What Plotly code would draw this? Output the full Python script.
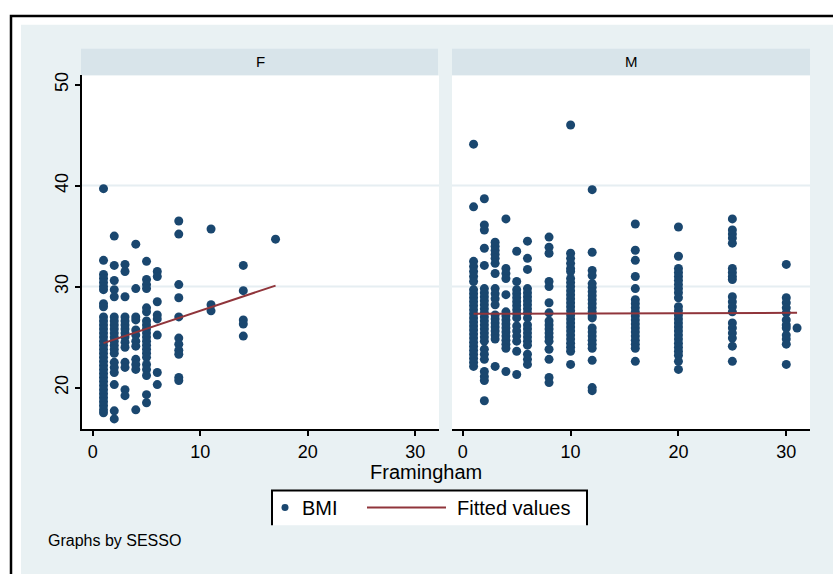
import plotly.graph_objects as go

# ---------------- data ----------------
f_x = ([1] * 34 + [2] * 21 + [3] * 15 + [4] * 12 + [5] * 21 + [6] * 8 + [8] * 11
       + [11] * 3 + [14] * 5 + [17] * 1)
f_y = [
    # x=1
    39.7, 32.6, 31.2, 30.8, 30.4, 30.0, 29.7, 28.3, 28.0, 27.0, 26.6, 26.2, 25.8, 25.4,
    25.0, 24.6, 24.2, 23.8, 23.4, 23.0, 22.6, 22.2, 21.8, 21.4, 21.0, 20.6, 20.2, 19.8,
    19.4, 19.0, 18.6, 18.2, 17.8, 17.5,
    # x=2
    35.0, 32.1, 30.6, 29.7, 29.0, 27.0, 26.6, 26.2, 25.8, 25.4, 25.0, 24.6, 24.2, 23.8,
    23.4, 22.5, 22.0, 21.5, 20.3, 17.7, 16.9,
    # x=3
    32.2, 31.5, 29.0, 27.0, 26.6, 26.2, 25.8, 25.4, 25.0, 24.5, 24.0, 22.5, 22.0, 19.8, 19.2,
    # x=4
    34.2, 29.8, 27.0, 26.7, 25.7, 25.2, 24.6, 24.1, 22.8, 22.3, 21.8, 17.8,
    # x=5
    32.5, 30.7, 30.2, 29.8, 27.9, 27.5, 26.6, 26.2, 25.8, 25.4, 25.0, 24.6, 24.2, 23.8,
    23.4, 23.0, 22.3, 21.8, 21.2, 19.3, 18.5,
    # x=6
    31.5, 31.0, 28.5, 27.2, 26.8, 25.2, 21.5, 20.3,
    # x=8
    36.5, 35.2, 30.2, 28.9, 27.0, 24.9, 24.3, 23.7, 23.3, 21.0, 20.7,
    # x=11
    35.7, 28.2, 27.6,
    # x=14
    32.1, 29.6, 26.7, 26.3, 25.1,
    # x=17
    34.7,
]

m_cols = {
    1: [44.1, 37.9, 32.5, 32.0, 31.5, 31.0, 30.5, 29.7, 29.3, 28.9, 28.5, 28.1, 27.7, 27.3,
        26.9, 26.5, 26.1, 25.7, 25.3, 24.9, 24.5, 24.1, 23.7, 23.3, 22.9, 22.5, 22.1],
    2: [38.7, 36.1, 35.6, 33.8, 32.1, 29.8, 29.4, 29.0, 28.6, 28.2, 27.8, 27.4, 27.0, 26.6,
        26.2, 25.8, 25.4, 25.0, 24.6, 23.8, 23.3, 22.8, 21.6, 21.1, 20.7, 18.7],
    3: [34.4, 34.0, 33.6, 33.2, 32.8, 32.3, 31.3, 29.8, 29.3, 28.8, 28.2, 27.2, 26.8, 26.4,
        26.0, 25.6, 25.2, 24.8, 22.1],
    4: [36.7, 31.8, 31.3, 30.8, 29.2, 27.5, 27.1, 26.7, 26.3, 25.9, 25.5, 25.1, 24.7, 24.3,
        23.9, 21.6],
    5: [33.5, 30.5, 29.7, 29.3, 28.9, 28.5, 28.1, 27.7, 27.3, 26.9, 26.1, 25.6, 25.1, 24.6,
        23.6, 21.3],
    6: [34.5, 32.8, 31.7, 29.8, 29.4, 29.0, 28.6, 28.2, 27.8, 27.4, 26.9, 26.2, 25.8, 25.4,
        25.0, 24.6, 24.2, 23.3, 22.8, 22.3],
    8: [34.9, 33.9, 33.3, 30.5, 30.0, 28.4, 27.4, 26.6, 26.2, 25.8, 25.4, 25.0, 24.6, 23.8,
        22.8, 21.0, 20.5],
    10: [46.0, 33.3, 32.8, 32.3, 31.8, 31.5, 30.8, 30.4, 30.0, 29.6, 29.2, 28.8, 28.4, 28.0,
         27.6, 27.2, 26.8, 26.4, 26.0, 25.6, 25.2, 24.8, 24.4, 24.0, 23.6, 22.3],
    12: [39.6, 33.4, 31.6, 31.1, 30.3, 29.9, 29.5, 29.1, 28.7, 28.3, 27.9, 27.5, 27.1, 26.9,
         25.9, 25.5, 25.1, 24.7, 24.3, 23.9, 22.7, 20.0, 19.7],
    16: [36.2, 33.6, 32.6, 31.0, 29.8, 28.7, 28.3, 27.9, 27.5, 27.1, 26.7, 26.3, 25.9, 25.5,
         25.1, 24.7, 24.3, 23.9, 22.6],
    20: [35.9, 33.0, 31.8, 31.4, 31.0, 30.6, 30.2, 29.8, 29.4, 28.9, 28.0, 27.6, 27.2, 26.8,
         26.4, 26.0, 25.6, 25.2, 24.8, 24.4, 24.0, 23.6, 23.2, 22.6, 21.8],
    25: [36.7, 35.6, 35.2, 34.8, 34.3, 31.8, 31.4, 31.0, 30.7, 29.0, 28.5, 28.0, 27.5, 26.4,
         25.9, 25.4, 24.9, 24.1, 22.6],
    30: [32.2, 28.9, 28.4, 27.9, 27.4, 26.7, 26.2, 25.9, 25.2, 24.8, 24.3, 22.3],
    31: [25.9],
}
m_x = [k for k, vals in m_cols.items() for _ in vals]
m_y = [v for vals in m_cols.values() for v in vals]

f_fit_x = [1, 17]
f_fit_y = [24.4, 30.1]
m_fit_x = [1, 31]
m_fit_y = [27.3, 27.4]

panel_labels = ["F", "M"]
x_ticks = [0, 10, 20, 30]
y_ticks = [20, 30, 40, 50]
grid_vals = [30, 40]
x_title = "Framingham"
legend_labels = ["BMI", "Fitted values"]
note = "Graphs by SESSO"

# ---------------- styling ----------------
W, H = 833, 574
NAVY = "#1a476f"
MAROON = "#90353b"
BG = "#e9f1f3"
STRIP = "#d8e4ea"
GRID = "#e6eef2"
FONT = "Liberation Sans, Arial, sans-serif"
NARROW = "Liberation Sans Narrow, Arial Narrow, Liberation Sans, sans-serif"


def px(x):
    return x / W


def py(y):
    return 1 - y / H


fig = go.Figure()

fig.add_trace(go.Scatter(x=f_x, y=f_y, mode="markers", xaxis="x", yaxis="y",
                         marker=dict(color=NAVY, size=9), showlegend=False))
fig.add_trace(go.Scatter(x=f_fit_x, y=f_fit_y, mode="lines", xaxis="x", yaxis="y",
                         line=dict(color=MAROON, width=2), showlegend=False))
fig.add_trace(go.Scatter(x=m_x, y=m_y, mode="markers", xaxis="x2", yaxis="y2",
                         marker=dict(color=NAVY, size=9), showlegend=False))
fig.add_trace(go.Scatter(x=m_fit_x, y=m_fit_y, mode="lines", xaxis="x2", yaxis="y2",
                         line=dict(color=MAROON, width=2), showlegend=False))

xr = [-1.0, 32.2]
yr = [15.9, 50.9]
ydom = [py(428), py(72)]
f_dom = [px(82), px(439)]
m_dom = [px(452), px(810)]

xaxis_common = dict(range=xr, tickvals=x_ticks, showgrid=False, zeroline=False,
                    showline=True, linecolor="black", linewidth=2,
                    ticks="outside", ticklen=5, tickwidth=1.5, tickcolor="black",
                    tickfont=dict(family=NARROW, size=18, color="black"))

fig.update_layout(
    width=W, height=H,
    margin=dict(l=0, r=0, t=0, b=0),
    paper_bgcolor="white",
    plot_bgcolor="white",
    showlegend=False,
    xaxis=dict(domain=f_dom, anchor="y", **xaxis_common),
    xaxis2=dict(domain=m_dom, anchor="y2", **xaxis_common),
    yaxis=dict(domain=ydom, range=yr, anchor="x", tickvals=y_ticks, showgrid=False,
               zeroline=False, showline=True, linecolor="black", linewidth=2,
               ticks="outside", ticklen=5, tickwidth=1.5, tickcolor="black",
               tickangle=-90, tickfont=dict(family=NARROW, size=18, color="black")),
    yaxis2=dict(domain=ydom, range=yr, anchor="x2", matches="y", showgrid=False,
                zeroline=False, showline=False, showticklabels=False, ticks=""),
)

shapes = [
    # outer black frame (extends past the right/bottom edge)
    dict(type="rect", xref="paper", yref="paper", x0=px(11), x1=px(W + 20),
         y0=py(H + 20), y1=py(12), line=dict(color="black", width=2.5),
         fillcolor="white", layer="below"),
    # light bluish graph region
    dict(type="rect", xref="paper", yref="paper", x0=px(21), x1=px(W + 5),
         y0=py(H + 5), y1=py(21), line=dict(width=0), fillcolor=BG, layer="below"),
    # strips
    dict(type="rect", xref="paper", yref="paper", x0=px(81), x1=px(438),
         y0=py(72), y1=py(45), line=dict(width=0), fillcolor=STRIP, layer="below"),
    dict(type="rect", xref="paper", yref="paper", x0=px(452), x1=px(810),
         y0=py(72), y1=py(45), line=dict(width=0), fillcolor=STRIP, layer="below"),
    # white plot regions
    dict(type="rect", xref="paper", yref="paper", x0=f_dom[0], x1=f_dom[1],
         y0=ydom[0], y1=ydom[1], line=dict(width=0), fillcolor="white", layer="below"),
    dict(type="rect", xref="paper", yref="paper", x0=m_dom[0], x1=m_dom[1],
         y0=ydom[0], y1=ydom[1], line=dict(width=0), fillcolor="white", layer="below"),
]
for xa, ya in (("x", "y"), ("x2", "y2")):
    for g in grid_vals:
        shapes.append(dict(type="line", xref=f"{xa} domain", yref=ya, x0=0, x1=1,
                           y0=g, y1=g, line=dict(color=GRID, width=2), layer="below"))

# legend box (white, three-sided border as in the reference)
lx0, lx1, ly0, ly1 = px(272), px(587), py(525), py(490)
shapes.append(dict(type="rect", xref="paper", yref="paper", x0=lx0, x1=lx1, y0=ly0, y1=ly1,
                   line=dict(width=0), fillcolor="white"))
shapes.append(dict(type="path", xref="paper", yref="paper",
                   path=f"M {lx0},{ly0} L {lx0},{ly1} L {lx1},{ly1} L {lx1},{ly0}",
                   line=dict(color="black", width=2)))
shapes.append(dict(type="line", xref="paper", yref="paper", x0=px(367), x1=px(446),
                   y0=py(507), y1=py(507), line=dict(color=MAROON, width=2)))
# legend marker swatch
shapes.append(dict(type="circle", xref="paper", yref="paper",
                   x0=px(281.5), x1=px(288.5), y0=py(510.5), y1=py(503.5),
                   line=dict(width=0), fillcolor=NAVY))
fig.update_layout(shapes=shapes)

annotations = [
    dict(text=panel_labels[0], x=px(260), y=py(58), xref="paper", yref="paper",
         showarrow=False, font=dict(family=FONT, size=15, color="black"),
         xanchor="center", yanchor="middle"),
    dict(text=panel_labels[1], x=px(631), y=py(58), xref="paper", yref="paper",
         showarrow=False, font=dict(family=FONT, size=15, color="black"),
         xanchor="center", yanchor="middle"),
    dict(text=x_title, x=px(426), y=py(471), xref="paper", yref="paper",
         showarrow=False, font=dict(family=FONT, size=20, color="black"),
         xanchor="center", yanchor="middle"),
    dict(text=legend_labels[0], x=px(300), y=py(508), xref="paper", yref="paper",
         showarrow=False, font=dict(family=FONT, size=20, color="black"),
         xanchor="left", yanchor="middle"),
    dict(text=legend_labels[1], x=px(455), y=py(508), xref="paper", yref="paper",
         showarrow=False, font=dict(family=FONT, size=20, color="black"),
         xanchor="left", yanchor="middle"),
    dict(text=note, x=px(46), y=py(540), xref="paper", yref="paper",
         showarrow=False, font=dict(family=FONT, size=16, color="black"),
         xanchor="left", yanchor="middle"),
]
fig.update_layout(annotations=annotations)

fig.write_html("out.html")
